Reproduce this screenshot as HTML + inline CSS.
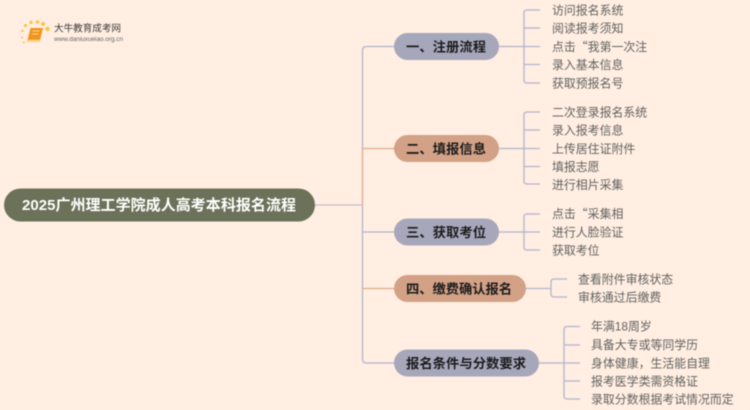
<!DOCTYPE html>
<html lang="zh">
<head>
<meta charset="utf-8">
<style>
html,body{margin:0;padding:0;background:#ffeee1;width:750px;height:410px;overflow:hidden}
svg{display:block;filter:blur(.4px)}
text{font-family:"Liberation Sans","Noto Sans CJK SC",sans-serif}
.q{font-family:"Noto Sans CJK SC",sans-serif}
.l{font-size:11.9px;fill:#626262}
.b{font-size:13.3px;font-weight:700;fill:#1c1c1c}
.c{fill:none;stroke:#b1b5cd;stroke-width:1.3}
.o{fill:none;stroke:#e2ab90;stroke-width:1.3}
</style>
</head>
<body>
<svg width="750" height="410" viewBox="0 0 750 410" xmlns="http://www.w3.org/2000/svg">
<rect width="750" height="410" fill="#ffeee1"/>

<!-- logo -->
<g fill="#f8c64a">
<circle cx="25.5" cy="25.5" r="1.6"/><circle cx="31" cy="22.5" r="1.7"/><circle cx="37.5" cy="22" r="1.8"/><circle cx="43" cy="24" r="2"/><circle cx="47.5" cy="29" r="2.2"/><circle cx="22.5" cy="31" r="1.2"/><circle cx="22" cy="37.5" r="1"/><circle cx="24" cy="42.5" r="1"/>
</g>
<path d="M30.5 28H43L39.5 42H27z" fill="#ef961d"/>
<path d="M27 42h12.5l.8-2.2H28z" fill="#fbd28a"/>
<path d="M32.5 31h7M32 34h6.5" stroke="#fbd68a" stroke-width=".9"/>
<text x="54" y="31.5" font-size="9.6" fill="#3c3c3c" textLength="67">大牛教育成考网</text>
<text x="54" y="41" font-size="6.4" fill="#666" textLength="69">www.daniuxueiao.org.cn</text>

<!-- trunk -->
<path class="c" d="M394 46.5H366.5Q362.5 46.5 362.5 50.5V148.5"/>
<path class="o" d="M394 148.5H362.5V205"/>
<path class="c" d="M362.5 205V359Q362.5 363 366.5 363H394"/>
<path class="c" d="M362.5 232H394"/>
<path class="o" d="M362.5 288.5H394"/>
<path d="M315 205H362.5" fill="none" stroke="#c8bccb" stroke-width="1.3"/>

<!-- group 1 -->
<path class="c" d="M499 46.5H524M540 10H527Q524 10 524 13V80Q524 83 527 83H540M524 28H540M524 46.5H540M524 64.5H540"/>
<!-- group 2 -->
<path class="c" d="M499 148.5H524M540 112H527Q524 112 524 115V181Q524 184 527 184H540M524 130H540M524 148.5H540M524 166.5H540"/>
<!-- group 3 -->
<path class="c" d="M499 232H524M540 214H527Q524 214 524 217V247Q524 250 527 250H540M524 232H540"/>
<!-- group 4 -->
<path class="c" d="M526 288.5H551M567 279H554Q551 279 551 282V294Q551 297 554 297H567"/>
<!-- group 5 -->
<path class="c" d="M539 363H564M580 326.5H567Q564 326.5 564 329.5V396Q564 399 567 399H580M564 345H580M564 363H580M564 381H580"/>

<!-- root -->
<rect x="4" y="188.5" width="311" height="33" rx="16.5" fill="#6b7259"/>
<text x="22" y="210.2" font-size="15" font-weight="700" fill="#fff" textLength="274">2025广州理工学院成人高考本科报名流程</text>

<!-- branches -->
<rect x="394" y="33" width="105" height="27" rx="13.5" fill="#a6a7bb"/>
<text class="b" x="406" y="51.3" textLength="80">一、注册流程</text>
<rect x="394" y="135" width="105" height="27" rx="13.5" fill="#d2a186"/>
<text class="b" x="406" y="153.3" textLength="80">二、填报信息</text>
<rect x="394" y="218.5" width="105" height="27" rx="13.5" fill="#a6a7bb"/>
<text class="b" x="406" y="236.8" textLength="80">三、获取考位</text>
<rect x="394" y="275" width="132" height="27" rx="13.5" fill="#d2a186"/>
<text class="b" x="406" y="293.3" textLength="106">四、缴费确认报名</text>
<rect x="394" y="349.5" width="145" height="27" rx="13.5" fill="#a6a7bb"/>
<text class="b" x="406" y="367.8" textLength="120">报名条件与分数要求</text>

<!-- leaves -->
<text class="l" x="552" y="14.3">访问报名系统</text>
<text class="l" x="552" y="32.3">阅读报考须知</text>
<text class="l q" x="552" y="50.8">点击“我第一次注</text>
<text class="l" x="552" y="68.8">录入基本信息</text>
<text class="l" x="552" y="87.3">获取预报名号</text>

<text class="l" x="552" y="116.3">二次登录报名系统</text>
<text class="l" x="552" y="134.3">录入报考信息</text>
<text class="l" x="552" y="152.8">上传居住证附件</text>
<text class="l" x="552" y="170.8">填报志愿</text>
<text class="l" x="552" y="188.8">进行相片采集</text>

<text class="l q" x="552" y="218">点击“采集相</text>
<text class="l" x="552" y="236.3">进行人脸验证</text>
<text class="l" x="552" y="254.3">获取考位</text>

<text class="l" x="578" y="283.5">查看附件审核状态</text>
<text class="l" x="578" y="301.5">审核通过后缴费</text>

<text class="l" x="591" y="330.5">年满18周岁</text>
<text class="l" x="591" y="349">具备大专或等同学历</text>
<text class="l" x="591" y="367.3">身体健康，生活能自理</text>
<text class="l" x="591" y="385.3">报考医学类需资格证</text>
<text class="l" x="591" y="403.5">录取分数根据考试情况而定</text>
</svg>
</body>
</html>
